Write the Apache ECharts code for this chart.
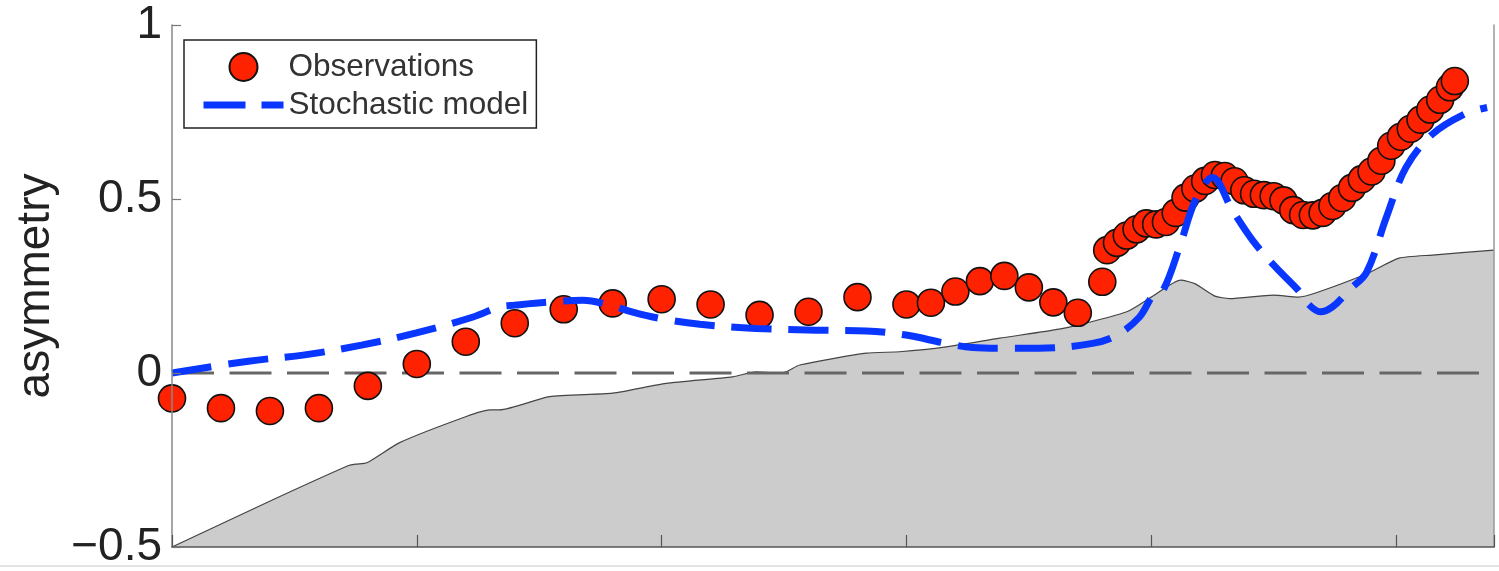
<!DOCTYPE html>
<html>
<head>
<meta charset="utf-8">
<script src="https://cdn.jsdelivr.net/npm/echarts@6/dist/echarts.min.js"></script>
<style>html,body{margin:0;padding:0;background:#fff;}#c{width:1499px;height:571px;}</style>
</head>
<body>
<div id="c"></div>
<script>
// Observations (red circles)
var obsX = [0, 1, 2, 3, 4, 5, 6, 7, 8, 9, 10, 11, 12, 13, 14, 15, 15.5, 16, 16.5, 17, 17.5, 18, 18.5, 19,
  19.1, 19.3, 19.5, 19.7, 19.9, 20.1, 20.3, 20.5, 20.7, 20.9, 21.1, 21.3, 21.5, 21.7, 21.9, 22.1, 22.3, 22.5,
  22.7, 22.9, 23.1, 23.3, 23.5, 23.7, 23.9, 24.1, 24.3, 24.5, 24.7, 24.9, 25.1, 25.3, 25.5, 25.7, 25.9, 26.1, 26.2];
var obsY = [-0.073, -0.101, -0.109, -0.101, -0.037, 0.026, 0.090, 0.143, 0.183, 0.200, 0.212, 0.197, 0.167, 0.176,
  0.218, 0.197, 0.202, 0.234, 0.264, 0.279, 0.246, 0.203, 0.173, 0.262,
  0.353, 0.374, 0.395, 0.413, 0.430, 0.427, 0.434, 0.460, 0.504, 0.530, 0.552, 0.569, 0.566, 0.551, 0.525, 0.515,
  0.511, 0.508, 0.496, 0.468, 0.454, 0.453, 0.460, 0.480, 0.503, 0.532, 0.557, 0.579, 0.610, 0.653, 0.679, 0.702,
  0.728, 0.757, 0.785, 0.821, 0.839];

// Stochastic model (blue dashed line)
var modelX = [0, 1.56, 2.71, 3.87, 4.99, 6.15, 6.69, 7.0, 7.71, 8.39, 8.94, 9.41, 9.96, 10.78, 11.93, 13.16, 14.18,
  14.99, 15.81, 16.35, 16.9, 17.7, 18.8, 19.3, 19.76, 20.05, 20.25, 20.6, 20.9, 21.25, 21.66, 22.07, 22.54, 23.0,
  23.2, 23.45, 23.7, 24.04, 24.4, 24.8, 25.2, 25.74, 26.4, 26.86];
var modelY = [0.0, 0.034, 0.052, 0.080, 0.115, 0.161, 0.190, 0.195, 0.204, 0.209, 0.195, 0.175, 0.157, 0.140, 0.128,
  0.123, 0.121, 0.109, 0.085, 0.073, 0.071, 0.071, 0.085, 0.109, 0.161, 0.226, 0.24, 0.372, 0.496, 0.562, 0.467,
  0.381, 0.304, 0.238, 0.199, 0.176, 0.19, 0.238, 0.29, 0.447, 0.590, 0.686, 0.744, 0.763];

// Gray background profile
var bgX = [0, 1.94, 3.57, 3.75, 3.98, 4.65, 6.01, 6.49, 6.69, 7.71, 9.0, 10.09, 11.45, 11.93, 12.47, 12.82, 14.18,
  14.86, 15.81, 16.9, 18.2, 19.5, 20.0, 20.6, 20.9, 21.3, 21.6, 22.5, 23.0, 23.4, 24.4, 25.06, 25.74, 27.0];
var bgY = [-0.5, -0.372, -0.268, -0.262, -0.258, -0.2, -0.125, -0.106, -0.106, -0.068, -0.058, -0.03, -0.011, 0.003,
  0.0, 0.023, 0.057, 0.061, 0.075, 0.1, 0.128, 0.176, 0.218, 0.267, 0.256, 0.221, 0.214, 0.224, 0.218, 0.232,
  0.285, 0.330, 0.339, 0.353];

// Zero reference line
var zeroX = [0, 27];
var zeroY = [0, 0];

function pairs(xs, ys) { return xs.map(function (x, i) { return [x, ys[i]]; }); }

var FONT = '"Liberation Sans", Arial, Helvetica, sans-serif';
var BLUE = '#0a37ff';
var chart = echarts.init(document.getElementById('c'), null, {renderer: 'canvas'});
chart.setOption({
  animation: false,
  backgroundColor: '#ffffff',
  grid: {left: 172, right: 5, top: 25, bottom: 24, containLabel: false},
  legend: {
    data: [
      {name: 'Observations', icon: 'circle'},
      {name: 'Stochastic model',
       itemStyle: {color: 'rgba(0,0,0,0)', borderWidth: 0, opacity: 0},
       lineStyle: {color: BLUE, width: 7, type: [42, 16], cap: 'butt'}}
    ],
    orient: 'vertical',
    left: 184, top: 40,
    padding: [11, 8, 7, 16],
    itemWidth: 80, itemHeight: 28, itemGap: 6,
    borderColor: '#222', borderWidth: 1.5,
    backgroundColor: '#fff',
    z: 10,
    textStyle: {fontFamily: FONT, fontSize: 31.5, color: '#333'}
  },
  xAxis: {
    type: 'value', min: 0, max: 27, interval: 5, z: 10,
    axisLine: {show: true, onZero: false, lineStyle: {color: '#555', width: 1.5}},
    axisTick: {show: true, inside: true, length: 12, lineStyle: {color: '#555', width: 1.2}},
    axisLabel: {show: false},
    splitLine: {show: false}
  },
  yAxis: [{
    type: 'value', min: -0.5, max: 1, interval: 0.5, z: 10,
    name: 'asymmetry', nameLocation: 'middle', nameGap: 113,
    nameTextStyle: {fontFamily: FONT, fontSize: 46, color: '#222'},
    axisLine: {show: true, onZero: false, lineStyle: {color: '#888', width: 1.5}},
    axisTick: {show: true, inside: true, length: 9, lineStyle: {color: '#777', width: 1.2}},
    axisLabel: {
      fontFamily: FONT, fontSize: 46, color: '#222', margin: 10,
      formatter: function (v) { return String(v).replace('-', '\u2212'); }
    },
    splitLine: {show: false}
  }, {
    type: 'value', min: -0.5, max: 1, interval: 0.5, position: 'right', z: 10,
    axisLine: {show: true, onZero: false, lineStyle: {color: '#999', width: 1.5}},
    axisTick: {show: false}, axisLabel: {show: false}, splitLine: {show: false}
  }],
  graphic: [{
    type: 'line', shape: {x1: 0, y1: 566, x2: 1499, y2: 566},
    style: {stroke: '#e4e4e4', lineWidth: 2}, silent: true
  }],
  series: [
    {
      name: 'profile', type: 'line', data: pairs(bgX, bgY), symbol: 'none', smooth: 0.2,
      lineStyle: {color: '#444', width: 1.2},
      areaStyle: {color: '#cccccc', opacity: 1, origin: 'start'},
      z: 1, silent: true
    },
    {
      name: 'zero', type: 'line', data: pairs(zeroX, zeroY), symbol: 'none',
      lineStyle: {color: '#666', width: 3, type: [42, 15.5]},
      z: 2, silent: true
    },
    {
      name: 'Observations', type: 'scatter', data: pairs(obsX, obsY),
      symbol: 'circle', symbolSize: 27,
      itemStyle: {color: '#ff2200', borderColor: '#111', borderWidth: 1.6, opacity: 1},
      z: 3
    },
    {
      name: 'Stochastic model', type: 'line', data: pairs(modelX, modelY), symbol: 'none', showSymbol: false,
      smooth: 0.35,
      lineStyle: {color: BLUE, width: 7, type: [40, 17], cap: 'butt'},
      itemStyle: {color: BLUE},
      z: 4
    }
  ]
});
</script>
</body>
</html>
